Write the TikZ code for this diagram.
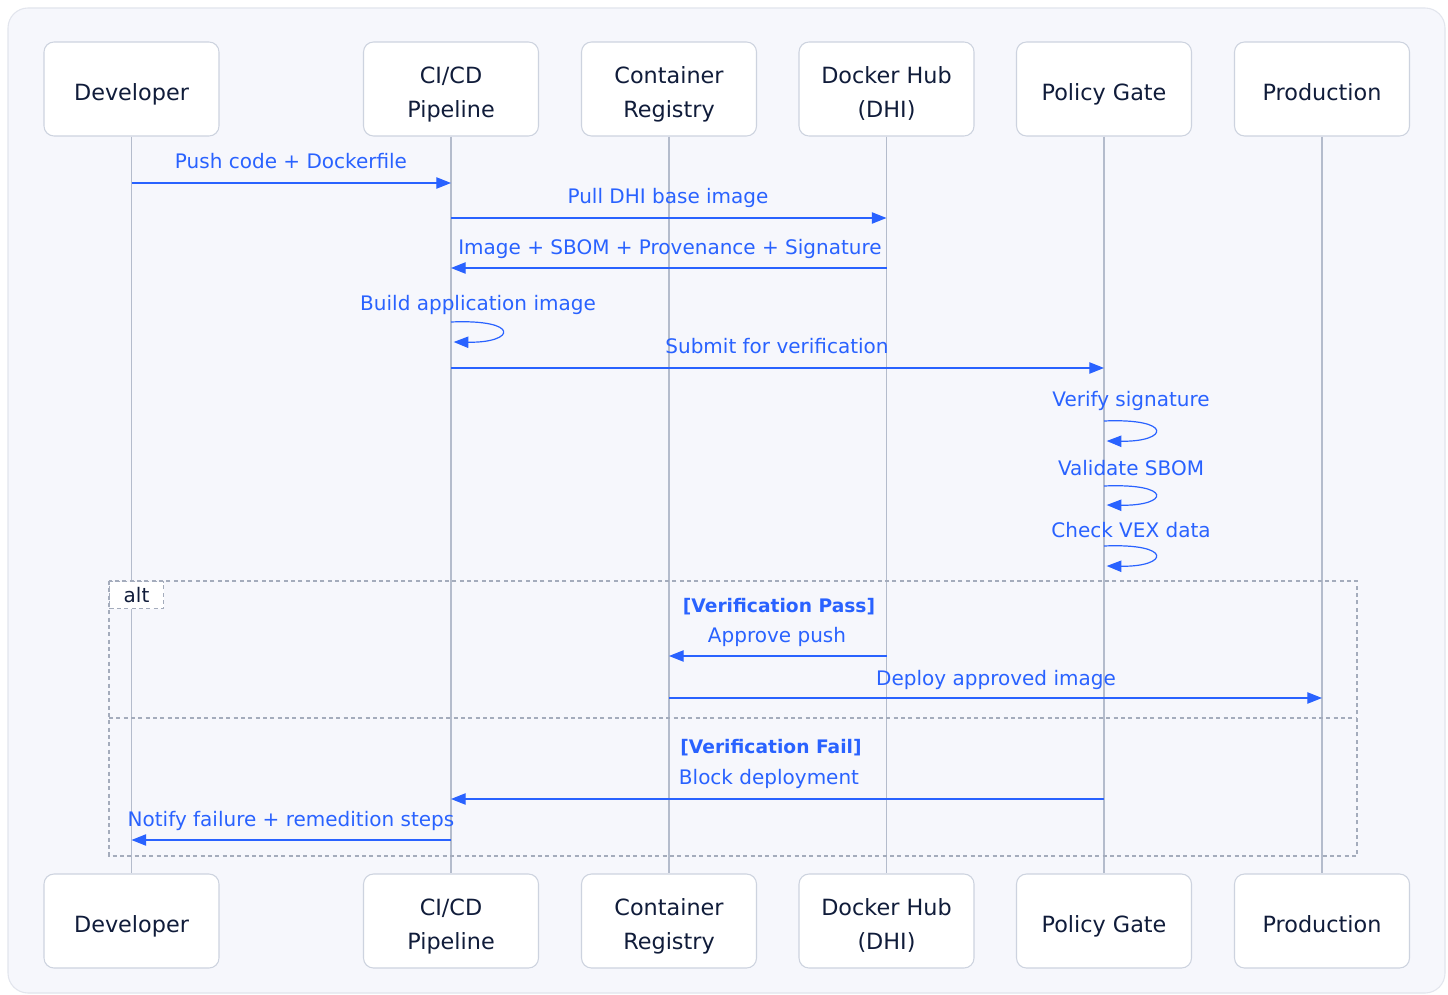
\documentclass[tikz,border=0pt]{standalone}
\usepackage{fontspec}
\setmainfont{DejaVu Sans}
\usetikzlibrary{arrows.meta}
\definecolor{msgblue}{HTML}{2962FF}
\definecolor{navy}{HTML}{101C3A}
\definecolor{boxline}{HTML}{CDD3DF}
\definecolor{lifeline}{HTML}{B4BCCC}
\definecolor{panel}{HTML}{F6F7FC}
\definecolor{panelline}{HTML}{E2E5ED}
\definecolor{dashgray}{HTML}{A4ACBC}
\tikzset{
  actor/.style={draw=boxline, line width=0.8pt, fill=white, rounded corners=7.5pt,
    minimum width=131.25pt, minimum height=70.5pt, align=center, inner sep=0pt,
    text=navy, font=\fontsize{16.75pt}{25.5pt}\selectfont},
  oneline/.style={text height=17.25pt, text depth=0pt},
  twoline/.style={text height=42.75pt, text depth=0pt},
  life/.style={draw=lifeline, line width=0.8pt},
  msg/.style={draw=msgblue, line width=0.9pt, -{Triangle[length=11pt,width=8.5pt]}},
  lbl/.style={anchor=base, inner sep=0pt, text=msgblue, font=\fontsize{15pt}{18pt}\selectfont},
  guard/.style={anchor=base, inner sep=0pt, text=msgblue, font=\fontsize{14pt}{18pt}\selectfont\bfseries},
  frag/.style={draw=dashgray, line width=0.8pt, dash pattern=on 3pt off 2.5pt},
}
\begin{document}
\begin{tikzpicture}[x=0.75pt,y=-0.75pt]
\useasboundingbox (0,0) rectangle (1448,995);
\fill[white] (0,0) rectangle (1448,995);
\draw[panelline, fill=panel, line width=0.8pt, rounded corners=15pt] (8,8) rectangle (1445,993);
% actors
\foreach \n/\x/\t/\s in {dev/131.5/{Developer}/oneline, ci/451/{CI/CD\\Pipeline}/twoline, cr/669/{Container\\Registry}/twoline, dh/886.5/{Docker Hub\\(DHI)}/twoline, pg/1104/{Policy Gate}/oneline, pr/1322/{Production}/oneline}{
  \node[actor, \s] (\n T) at (\x,89) {\t};
  \node[actor, \s] (\n B) at (\x,921) {\t};
  \draw[life] (\n T.south) -- (\n B.north);
}
% y levels
\foreach \i/\y in {a/183, b/218, c/268, d/322, e/368, f/421, g/486, h/546, i/656, j/698, k/799, l/840}{
  \coordinate (y\i) at (0,\y);
}
% alt fragment
\draw[frag] (109,581) rectangle (1357,856);
\draw[frag] (109,718) -- (1357,718);
\node[frag, fill=white, minimum width=40.5pt, minimum height=20.25pt, inner sep=0pt, anchor=north west,
  text=navy, font=\fontsize{15pt}{18pt}\selectfont] (alt) at (109,581) {alt};
% messages
\node[lbl] (l1) at (291,169) {Push code + Dockerfile};
\draw[msg] (devT |- ya) -- (ciT |- ya);
\node[lbl] (l2) at (668,204) {Pull DHI base image};
\draw[msg] (ciT |- yb) -- (dhT |- yb);
\node[lbl] (l3) at (670,254) {Image + SBOM + Provenance + Signature};
\draw[msg] (dhT |- yc) -- (ciT |- yc);
\node[lbl] (l4) at (478,310) {Build application image};
\draw[msg] (ciT |- yd) .. controls +(70,-3) and +(62,1) .. ([xshift=2]ciT |- 0,342);
\node[lbl] (l5) at (777,353) {Submit for verification};
\draw[msg] (ciT |- ye) -- (pgT |- ye);
\node[lbl] (l6) at (1131,406) {Verify signature};
\draw[msg] (pgT |- yf) .. controls +(70,-3) and +(62,1) .. ([xshift=2]pgT |- 0,441);
\node[lbl] (l7) at (1131,475) {Validate SBOM};
\draw[msg] (pgT |- yg) .. controls +(70,-3) and +(62,1) .. ([xshift=2]pgT |- 0,505);
\node[lbl] (l8) at (1131,537) {Check VEX data};
\draw[msg] (pgT |- yh) .. controls +(70,-3) and +(62,1) .. ([xshift=2]pgT |- 0,566);
\node[guard] (g1) at (779,612) {[Verification Pass]};
\node[lbl] (l9) at (777,642) {Approve push};
\draw[msg] (dhT |- yi) -- (crT |- yi);
\node[lbl] (l10) at (996,685) {Deploy approved image};
\draw[msg] (crT |- yj) -- (prT |- yj);
\node[guard] (g2) at (771,753) {[Verification Fail]};
\node[lbl] (l11) at (769,784) {Block deployment};
\draw[msg] (pgT |- yk) -- (ciT |- yk);
\node[lbl] (l12) at (291,826) {Notify failure + remedition steps};
\draw[msg] (ciT |- yl) -- (devT |- yl);
\end{tikzpicture}
\end{document}
